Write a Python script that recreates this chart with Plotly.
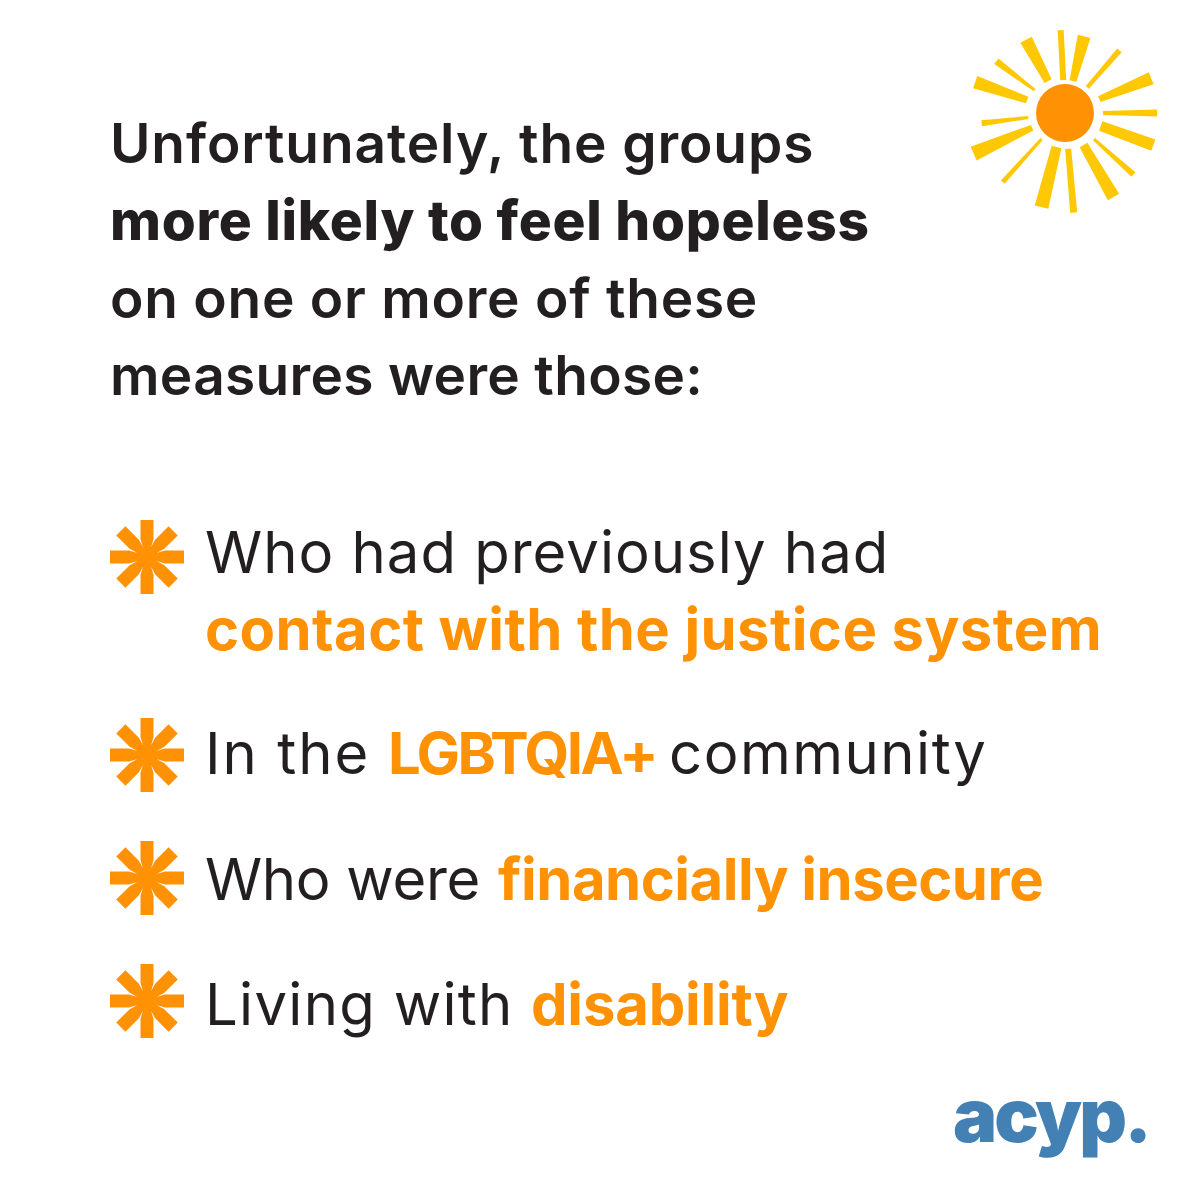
import numpy as np
import plotly.graph_objects as go

ORANGE = "#FF9105"
YELLOW = "#FFC805"
DARK = "#231F20"
BLUE = "#4380B4"

# text pieces: text, left x, baseline y, colour, weight, size, letter spacing
seg_text = ["Unfortunately, the groups", "more likely to feel hopeless", "on one or more of these", "measures were those:",
            "Who had previously had", "contact with the justice system",
            "In the", "LGBTQIA+", "community",
            "Who were", "financially insecure",
            "Living with", "disability"]
seg_x = [111, 111, 111, 111, 206, 206, 206, 389, 670, 206, 499, 206, 532]
seg_base = [164, 241, 319, 396, 574, 651, 775, 775, 775, 901, 901, 1026, 1026]
seg_color = [DARK, DARK, DARK, DARK, DARK, ORANGE, DARK, ORANGE, DARK, DARK, ORANGE, DARK, ORANGE]
seg_weight = [600, 800, 600, 600, 400, 700, 400, 700, 400, 400, 700, 400, 700]
seg_size = [55, 55, 55, 55, 58, 58, 58, 58, 58, 58, 58, 58, 58]
seg_spacing = [0.9, 0.7, 0.75, 0.3, 1, 0.43, 2, -2.6, 1.5, -0.3, -0.5, 1.3, -0.2]

# sun rays (clockwise from straight up)
ray_angle = [-3, 14, 41, 68, 90, 110, 132, 150, 175, 194, 222, 246, 263, 289, 307, 332]
ray_r0 = [33, 33, 34, 37, 38, 38, 39, 37, 36, 35, 35, 36, 37, 40, 38, 36]
ray_r1 = [83, 79, 83, 93, 92, 94, 92, 97, 100, 97, 93, 100, 84, 95, 86, 83]
ray_w0 = [6, 7, 4, 6, 4, 10, 3, 9, 6, 10, 3, 6, 3, 7, 3, 8]
ray_w1 = [6, 13, 6, 13, 7, 12, 6, 13, 7, 14, 5, 15, 6, 13, 7, 13]
sun_center = (1065, 113)

star_x = [147, 147, 147, 147]
star_y = [557, 755, 878, 1001]
star_angle = [0, 45, 90, 135, 180, 225, 270, 315]


def wedges(cx, cy, angles, r0, r1, w0, w1):
    xs, ys = [], []
    for a, ra, rb, wa, wb in zip(angles, r0, r1, w0, w1):
        t = np.radians(a)
        ux, uy = np.sin(t), -np.cos(t)
        px, py = np.cos(t), np.sin(t)
        xs += [cx + ra * ux - wa / 2 * px, cx + rb * ux - wb / 2 * px,
               cx + rb * ux + wb / 2 * px, cx + ra * ux + wa / 2 * px, None]
        ys += [cy + ra * uy - wa / 2 * py, cy + rb * uy - wb / 2 * py,
               cy + rb * uy + wb / 2 * py, cy + ra * uy + wa / 2 * py, None]
    return xs, ys


fig = go.Figure()

rx, ry = wedges(sun_center[0], sun_center[1], ray_angle, ray_r0, ray_r1, ray_w0, ray_w1)
fig.add_trace(go.Scatter(x=rx, y=ry, mode="lines", fill="toself", fillcolor=YELLOW, line=dict(width=0), hoverinfo="skip"))
fig.add_trace(go.Scatter(x=[sun_center[0]], y=[sun_center[1]], mode="markers",
                         marker=dict(size=58, color=ORANGE), hoverinfo="skip"))

for sx, sy in zip(star_x, star_y):
    n = len(star_angle)
    # arms keep their width on the outer half and taper in towards the middle
    ax, ay = wedges(sx, sy, star_angle, [0] * n, [18] * n, [2.4] * n, [13] * n)
    bx, by = wedges(sx, sy, star_angle, [18] * n, [37] * n, [13] * n, [13] * n)
    fig.add_trace(go.Scatter(x=ax + bx, y=ay + by, mode="lines", fill="toself", fillcolor=ORANGE, line=dict(width=0), hoverinfo="skip"))

for t, x, b, c, w, s, ls in zip(seg_text, seg_x, seg_base, seg_color, seg_weight, seg_size, seg_spacing):
    fig.add_annotation(x=x, y=b, xref="x", yref="y", text=f'<span style="letter-spacing:{ls}px">{t}</span>',
                       showarrow=False, xanchor="left", yanchor="bottom",
                       xshift=-2, yshift=-s * 0.235, borderpad=0,
                       font=dict(family="Inter", size=s, color=c, weight=w))

fig.add_annotation(x=952, y=1143, xref="x", yref="y", text='<span style="letter-spacing:-2.8px">acyp.</span>',
                   showarrow=False, xanchor="left", yanchor="bottom",
                   yshift=-18, borderpad=0, font=dict(family="Inter", size=74, color=BLUE, weight=900))

fig.update_layout(width=1200, height=1200, margin=dict(l=0, r=0, t=0, b=0), showlegend=False,
                  paper_bgcolor="white", plot_bgcolor="white",
                  xaxis=dict(range=[0, 1200], visible=False, fixedrange=True),
                  yaxis=dict(range=[1200, 0], visible=False, fixedrange=True))

fig.write_html("out.html", config={"displayModeBar": False},
               post_script="document.body.style.margin='0';document.documentElement.style.overflow='hidden';")
